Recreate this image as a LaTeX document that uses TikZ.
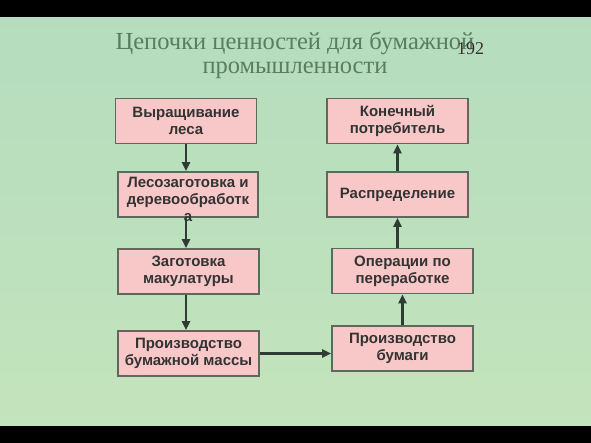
\documentclass[tikz,border=0pt]{standalone}
\usepackage{fontspec}
\setmainfont{Liberation Serif}
\newfontfamily\boxfont{Liberation Sans}
\usetikzlibrary{arrows.meta}
\definecolor{bgtop}{HTML}{B4DCBE}
\definecolor{bgbottom}{HTML}{C4E4BC}
\definecolor{boxpink}{HTML}{F8C8C8}
\definecolor{boxline}{HTML}{5C695C}
\definecolor{titlegreen}{HTML}{5A7C5F}
\definecolor{arrowgrey}{HTML}{2E3C33}
\tikzset{
	chainbox/.style={draw=boxline, line width=1.6pt, fill=boxpink, minimum width=141pt, minimum height=45pt, inner sep=0pt, align=center, text=black!80, font=\boxfont\bfseries\fontsize{15}{17}\selectfont},
	flow/.style={draw=arrowgrey, line width=2.2pt, -{Triangle[length=9pt,width=8pt]}}
}

\begin{document}
\begin{tikzpicture}[x=1pt,y=-1pt]
		%%%%% START %%%%%
		
		\useasboundingbox (0,0) rectangle (591,443);
		\shade[top color=bgtop, bottom color=bgbottom] (0,0) rectangle (591,443);
		\fill[black] (0,0) rectangle (591,17);
		\fill[black] (0,426) rectangle (591,443);
		
		\node[align=center, inner sep=0pt, text=titlegreen, font=\fontsize{24.5}{24}\selectfont] (title) at (295,55) {Цепочки ценностей для бумажной\\промышленности};
		\node[inner sep=0pt, text=black!80, font=\fontsize{18}{20}\selectfont] (pageno) at (470.5,49) {192};
		
		\node[chainbox] (grow) at (186,121) {Выращивание\\леса};
		\node[chainbox, minimum width=140pt] (logging) at (188,194.5) {\smash{\raisebox{-9pt}{\parbox[c]{140pt}{\centering Лесозаготовка и\\деревообработк\\а}}}};
		\node[chainbox] (waste) at (188.5,271.5) {Заготовка\\макулатуры};
		\node[chainbox] (pulp) at (188.5,353.5) {Производство\\бумажной массы};
		
		\node[chainbox] (consumer) at (397.5,121) {Конечный\\потребитель};
		\node[chainbox] (distrib) at (397.5,194.5) {Распределение};
		\node[chainbox] (convert) at (402.5,271) {Операции по\\переработке};
		\node[chainbox] (paper) at (402.5,348.5) {Производство\\бумаги};
		
		\draw[flow] (grow.south) -- (grow.south |- logging.north);
		\draw[flow] (logging.south -| grow.south) -- (waste.north -| grow.south);
		\draw[flow] (waste.south -| grow.south) -- (pulp.north -| grow.south);
		\draw[flow] (pulp.east) -- (pulp.east -| paper.west);
		\draw[flow] (paper.north) -- (convert.south);
		\draw[flow] (convert.north -| distrib.south) -- (distrib.south);
		\draw[flow] (distrib.north) -- (consumer.south);
		
		%%%%% END %%%%%
\end{tikzpicture}
\end{document}
